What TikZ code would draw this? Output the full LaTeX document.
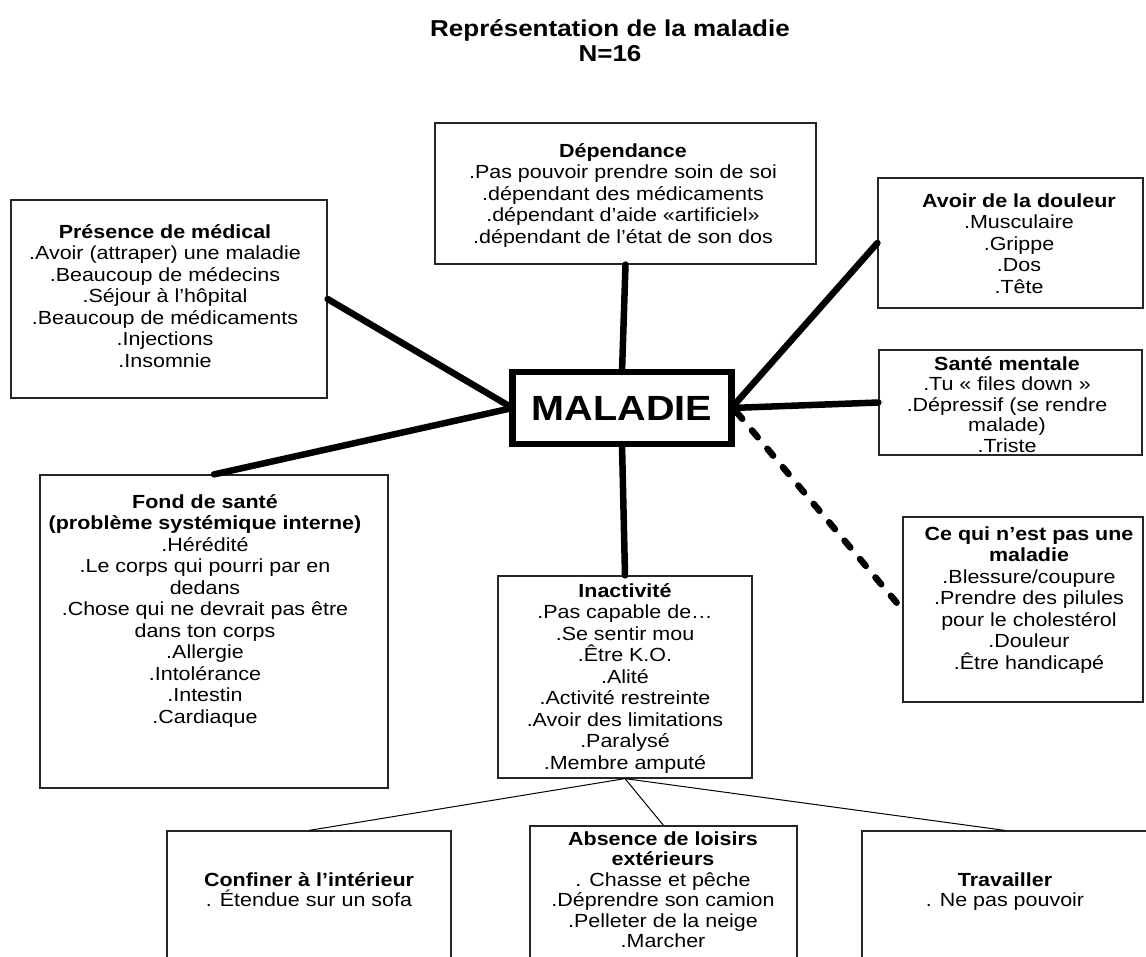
\documentclass[tikz,border=0pt]{standalone}
\usepackage{fontspec}
\setmainfont{Liberation Sans}[FakeStretch=1.13]
\newcommand\fls{\rule{0pt}{18pt}}
\tikzset{
  box/.style={draw=black!85, line width=1.2pt, inner sep=0pt},
  txt/.style={align=center, inner sep=0pt, anchor=north, font=\fontsize{19}{21.5}\selectfont},
  txttight/.style={txt, font=\fontsize{19}{20.5}\selectfont},
  heavy/.style={line width=6.5pt, line cap=round},
  fine/.style={line width=1pt},
}
\begin{document}
\begin{tikzpicture}[x=1pt, y=-1pt]
\useasboundingbox (0,0) rectangle (1146,956);
\clip (0,0) rectangle (1146,956);

% title
\node[anchor=north, align=center, inner sep=0pt, font=\bfseries\fontsize{23}{25}\selectfont]
  (title) at (610,14) {\rule{0pt}{22pt}Représentation de la maladie\\N=16};

% central node
\node[draw, line width=6.5pt, outer sep=0pt, minimum width=219pt, minimum height=72pt, inner sep=0pt,
  font=\bfseries\fontsize{35}{40}\selectfont] (mal) at (622,408) {MALADIE};

% frames
\node[box, minimum width=316pt, minimum height=198pt] (pres) at (169,299) {};
\node[box, minimum width=381pt, minimum height=141pt] (dep)  at (625.5,193.5) {};
\node[box, minimum width=265pt, minimum height=130pt] (dou)  at (1010.5,243) {};
\node[box, minimum width=263pt, minimum height=105pt] (sant) at (1010.5,402.5) {};
\node[box, minimum width=240pt, minimum height=185pt] (ceq)  at (1023,609.5) {};
\node[box, minimum width=348pt, minimum height=313pt] (fond) at (214,631.5) {};
\node[box, minimum width=254pt, minimum height=202pt] (inac) at (625,677) {};
\node[box, minimum width=284pt, minimum height=169pt] (conf) at (309,915.5) {};
\node[box, minimum width=267pt, minimum height=174pt] (abs)  at (663.5,913) {};
\node[box, minimum width=286pt, minimum height=169pt] (trav) at (1005,915.5) {};

% contents
\node[txt] (presT) at (165,220) {\fls\textbf{Présence de médical}\\.Avoir (attraper) une maladie\\.Beaucoup de médecins\\.Séjour à l’hôpital\\.Beaucoup de médicaments\\.Injections\\.Insomnie};
\node[txt] (depT) at (623,139) {\fls\textbf{Dépendance}\\.Pas pouvoir prendre soin de soi\\.dépendant des médicaments\\.dépendant d’aide «artificiel»\\.dépendant de l’état de son dos};
\node[txt] (douT) at (1019,189) {\fls\textbf{Avoir de la douleur}\\.Musculaire\\.Grippe\\.Dos\\.Tête};
\node[txttight] (santT) at (1007,352) {\fls\textbf{Santé mentale}\\.Tu « files down »\\.Dépressif (se rendre\\malade)\\.Triste};
\node[txt] (ceqT) at (1029,522) {\fls\textbf{Ce qui n’est pas une}\\\textbf{maladie}\\.Blessure/coupure\\.Prendre des pilules\\pour le cholestérol\\.Douleur\\.Être handicapé};
\node[txt] (fondT) at (205,490) {\fls\textbf{Fond de santé}\\\textbf{(problème systémique interne)}\\.Hérédité\\.Le corps qui pourri par en\\dedans\\.Chose qui ne devrait pas être\\dans ton corps\\.Allergie\\.Intolérance\\.Intestin\\.Cardiaque};
\node[txt] (inacT) at (625,579) {\fls\textbf{Inactivité}\\.Pas capable de…\\.Se sentir mou\\.Être K.O.\\.Alité\\.Activité restreinte\\.Avoir des limitations\\.Paralysé\\.Membre amputé};
\node[txttight] (confT) at (309,868) {\fls\textbf{Confiner à l’intérieur}\\. Étendue sur un sofa};
\node[txttight] (absT) at (663,827) {\fls\textbf{Absence de loisirs}\\\textbf{extérieurs}\\. Chasse et pêche\\.Déprendre son camion\\.Pelleter de la neige\\.Marcher};
\node[txttight] (travT) at (1005,868) {\fls\textbf{Travailler}\\. Ne pas pouvoir};

% links from the centre
\draw[heavy] (pres.east) -- (mal.west);
\draw[heavy] (fond.north) -- (mal.west);
\draw[heavy] (dep.south) -- (mal.north);
\draw[heavy] (dou.west) -- (mal.east);
\draw[heavy] (sant.west) -- (mal.east);
\draw[heavy] (mal.south) -- (inac.north);
\draw[heavy, dash pattern=on 9pt off 15pt] ([xshift=5pt,yshift=-4pt]mal.east) -- (ceq.west);

% sub-links under Inactivité
\draw[fine] (inac.south) -- (conf.north);
\draw[fine] (inac.south) -- (abs.north);
\draw[fine] (inac.south) -- (trav.north);
\end{tikzpicture}
\end{document}
